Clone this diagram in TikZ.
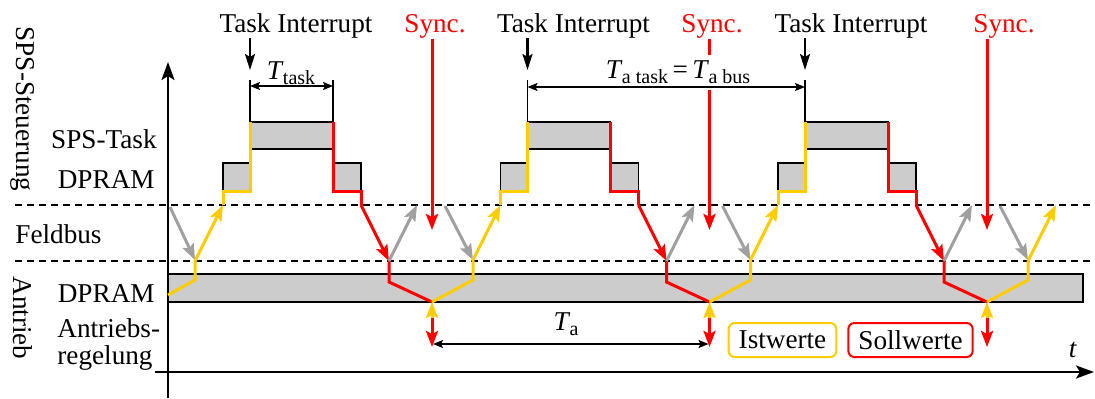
\documentclass[tikz,border=0pt]{standalone}
\usepackage{fontspec}
\setmainfont{LiberationSerif}[Extension=.ttf,UprightFont=*-Regular,ItalicFont=*-Italic,BoldFont=*-Bold,BoldItalicFont=*-BoldItalic]
\usetikzlibrary{arrows.meta}
\definecolor{ylw}{RGB}{255,204,0}
\definecolor{rd}{RGB}{255,0,0}
\definecolor{gry}{RGB}{160,160,160}
\definecolor{fillg}{RGB}{204,204,204}
\newcommand{\TimeSub}[1]{\textit{T}\kern-0.3pt\raisebox{-2.5pt}{\fontsize{10}{10}\selectfont #1}}
\tikzset{
  blk/.style={draw=black,line width=0.9pt,fill=fillg},
  busline/.style={draw=black,line width=0.75pt,dash pattern=on 3.5pt off 2.5pt},
  axis/.style={draw=black,line width=1.3pt,-{Stealth[length=9pt,width=6.5pt,inset=2pt]}},
  ist/.style={draw=ylw,line width=1.5pt},
  soll/.style={draw=rd,line width=1.5pt},
  gr/.style={draw=gry,line width=1.5pt},
  carrow/.style={-{Stealth[length=8pt,width=6pt,inset=1.5pt]}},
  dimline/.style={draw=black,line width=0.9pt},
  dimarrow/.style={draw=black,line width=0.9pt,{Stealth[length=5pt,width=4pt,inset=1pt]}-{Stealth[length=5pt,width=4pt,inset=1pt]}},
  tarrow/.style={draw=black,line width=1.1pt,-{Stealth[length=8pt,width=5pt,inset=1.5pt]}},
  lbl/.style={anchor=base,inner sep=0pt},
  legbox/.style={rounded corners=3pt,line width=1pt,inner xsep=5pt,minimum height=17pt,anchor=center}
}
\begin{document}
\begin{tikzpicture}[x=0.5pt,y=-0.5pt,font=\fontsize{13.6}{16}\selectfont]
\useasboundingbox (0,0) rectangle (1095,398);
% lower DPRAM bar
\draw[blk] (168,274) rectangle (1083,302);
% Feldbus lines
\draw[busline] (15,205) -- (1093,205);
\draw[busline] (15,261) -- (1093,261);
% axes
\coordinate (yaxB) at (168,398);
\coordinate (yaxT) at (168,62);
\coordinate (xaxL) at (155,372);
\coordinate (xaxR) at (1094,372);
\draw[axis] (yaxB) -- (yaxT);
\draw[axis] (xaxL) -- (xaxR);
% left labels
\node[rotate=-90] (sps) at (23,109) {SPS-Steuerung};
\node[rotate=-90] (antr) at (23,318) {Antrieb};
\node[anchor=base east,inner sep=0pt] (spstask) at (157,148) {SPS-Task};
\node[anchor=base east,inner sep=0pt] (dpramU) at (155,188) {DPRAM};
\node[anchor=base west,inner sep=0pt] (feld) at (15,243) {Feldbus};
\node[anchor=base east,inner sep=0pt] (dpramL) at (155,302) {DPRAM};
\node[anchor=base west,inner sep=0pt] (ar1) at (57,337) {Antriebs-};
\node[anchor=base west,inner sep=0pt] (ar2) at (57,364) {regelung};
% cycle 0 remnants
\coordinate (g0a) at (170,207);
\coordinate (g0b) at (195,260);
\draw[gr,carrow] (g0a) -- (g0b);
\coordinate (y0a) at (195,261);
\coordinate (y0b) at (195,280);
\coordinate (y0c) at (168,295);
\draw[ist] (y0a) -- (y0b) -- (y0c);
% cycles
\foreach \s/\i in {250/1,527.5/2,805/3}{
  \pgfmathsetmacro\xa{\s-27}
  \pgfmathsetmacro\xb{\s+83}
  \pgfmathsetmacro\xc{\s+111}
  \pgfmathsetmacro\xd{\s+139}
  \pgfmathsetmacro\xe{\s+167}
  \pgfmathsetmacro\xf{\s+182}
  \pgfmathsetmacro\xg{\s+195}
  \pgfmathsetmacro\xh{\s+223}
  \pgfmathsetmacro\xp{\s-55}
  \pgfmathsetmacro\xl{\s+46}
  \draw[blk] (\xa,163) rectangle (\s,191);
  \draw[blk] (\s,122) rectangle (\xb,149);
  \draw[blk] (\xb,163) rectangle (\xc,191);
  \coordinate (dimT\i) at (\s,80);
  \coordinate (tsk\i) at (\s,122);
  \draw[dimline] (dimT\i) -- (tsk\i);
  % Istwerte into the task
  \coordinate (yin\i) at (\xp,261);
  \coordinate (yup\i) at (\xa,205);
  \draw[ist,carrow] (yin\i) -- (yup\i);
  \draw[ist] (yup\i) -- (\xa,191) -- (\s,191) -- (tsk\i);
  % Sollwerte out of the task
  \coordinate (rout\i) at (\xc,205);
  \coordinate (rdn\i) at (\xd,261);
  \coordinate (sy\i) at (\xf,302);
  \draw[soll] (\xb,122) -- (\xb,191) -- (\xc,191) -- (rout\i);
  \draw[soll,carrow] (rout\i) -- (rdn\i);
  \draw[soll] (rdn\i) -- (\xd,282) -- (sy\i);
  \coordinate (gup\i) at (\xe,205);
  \draw[gr,carrow] (rdn\i) -- (gup\i);
  % Sync
  \coordinate (syT\i) at (\xf,39);
  \coordinate (syB\i) at (\xf,230);
  \draw[soll,carrow] (syT\i) -- (syB\i);
  % next request
  \coordinate (gda\i) at (\xg,206);
  \coordinate (gdb\i) at (\xh,260);
  \draw[gr,carrow] (gda\i) -- (gdb\i);
  \coordinate (yb\i) at (\xh,261);
  \draw[ist] (yb\i) -- (\xh,280) -- (sy\i);
  \coordinate (cy\i) at (\xf,324);
  \coordinate (cr\i) at (\xf,318);
  \coordinate (cb\i) at (\xf,347);
  \draw[ist,carrow] (cy\i) -- (sy\i);
  \draw[soll,carrow] (cr\i) -- (cb\i);
  % Task interrupt
  \node[lbl] (ti\i) at (\xl,32) {Task Interrupt};
  \coordinate (tiA\i) at (\s,38);
  \coordinate (tiB\i) at (\s,70);
  \draw[tarrow] (tiA\i) -- (tiB\i);
}
% last Istwerte
\coordinate (ylast) at (1056,205);
\draw[ist,carrow] (yb3) -- (ylast);
% Sync labels
\node[lbl,text=rd] (sl1) at (435,32) {Sync.};
\node[lbl,text=rd] (sl2) at (712,32) {Sync.};
\node[lbl,text=rd] (sl3) at (1004,32) {Sync.};
% T_task
\coordinate (dimT0) at (333,80);
\coordinate (tskE) at (333,122);
\draw[dimline] (dimT0) -- (tskE);
\coordinate (ttA) at (250,86);
\coordinate (ttB) at (333,86);
\draw[dimarrow] (ttA) -- (ttB);
\node[lbl] (ttask) at (291,79) {\TimeSub{task}};
% T_a task = T_a bus
\node[fill=white,inner xsep=2pt,inner ysep=3pt] (tab) at (678,72) {\TimeSub{a task}\,=\,\TimeSub{a bus}};
\coordinate (taA) at (527.5,87);
\coordinate (taB) at (805,87);
\draw[dimarrow] (taA) -- (taB);
% T_a
\coordinate (TaA) at (433,344);
\coordinate (TaB) at (708.5,344);
\draw[dimarrow] (TaA) -- (TaB);
\node[lbl] (ta) at (566,330) {\TimeSub{a}};
% legend
\node[legbox,draw=ylw] (ist) at (782.5,340) {Istwerte};
\node[legbox,draw=rd] (soll) at (910.5,340) {Sollwerte};
\node[lbl] (tlab) at (1073,357) {\textit{t}};
\end{tikzpicture}
\end{document}
